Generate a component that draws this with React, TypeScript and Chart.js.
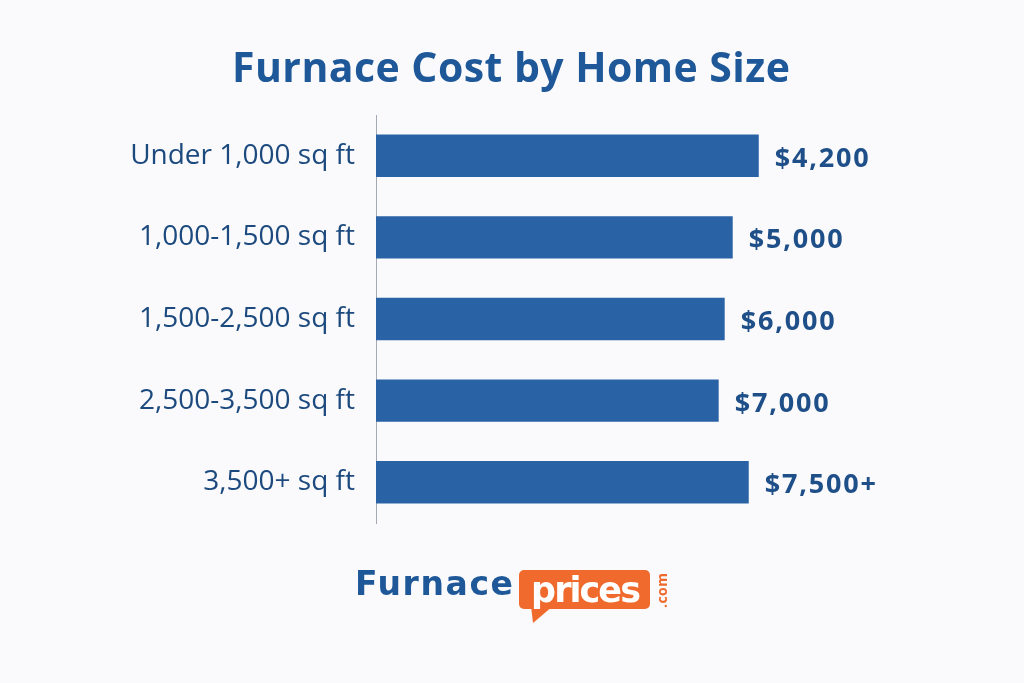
import React, { useEffect, useRef } from "react";
import { Chart, registerables } from "chart.js";

Chart.register(...registerables);

// Categories (home size)
const categories = [
  "Under 1,000 sq ft",
  "1,000-1,500 sq ft",
  "1,500-2,500 sq ft",
  "2,500-3,500 sq ft",
  "3,500+ sq ft",
];
// Bar lengths as drawn in the picture (relative units, 0-100 axis)
const barLengths = [76.4, 71.2, 69.6, 68.4, 74.4];
// Cost labels printed at the end of each bar
const costLabels = ["$4,200", "$5,000", "$6,000", "$7,000", "$7,500+"];

const TITLE = "Furnace Cost by Home Size";
const BG = "#FAFAFC";
const BAR = "#2A62A6";
const NAVY = "#1C4A7E";
const TITLE_COLOR = "#1E5898";
const ORANGE = "#EF6A2C";

function fillFitted(
  ctx: CanvasRenderingContext2D,
  text: string,
  x: number,
  y: number,
  width: number
) {
  (ctx as any).letterSpacing = "0px";
  const w = ctx.measureText(text).width;
  const n = Math.max(1, text.length - 1);
  const ls = (width - w) / n;
  (ctx as any).letterSpacing = ls + "px";
  ctx.fillText(text, x, y);
  (ctx as any).letterSpacing = "0px";
}

const decorPlugin = {
  id: "decor",
  beforeDraw(chart: any) {
    const ctx = chart.ctx as CanvasRenderingContext2D;
    ctx.save();
    ctx.fillStyle = BG;
    ctx.fillRect(0, 0, chart.width, chart.height);
    ctx.restore();
  },
  afterDraw(chart: any) {
    const ctx = chart.ctx as CanvasRenderingContext2D;
    ctx.save();
    // Title
    ctx.fillStyle = TITLE_COLOR;
    ctx.font = "bold 41px 'Open Sans'";
    ctx.textAlign = "left";
    ctx.textBaseline = "alphabetic";
    fillFitted(ctx, TITLE, 232, 82, 558);

    // Logo: "Furnace"
    ctx.fillStyle = TITLE_COLOR;
    ctx.font = "bold 33px 'DejaVu Sans'";
    fillFitted(ctx, "Furnace", 355, 595, 158);

    // Orange speech bubble
    ctx.fillStyle = ORANGE;
    ctx.beginPath();
    (ctx as any).roundRect(519, 570, 131, 39, 5);
    ctx.fill();
    ctx.beginPath();
    ctx.moveTo(531, 606);
    ctx.lineTo(533, 623);
    ctx.lineTo(553, 606);
    ctx.closePath();
    ctx.fill();

    // "prices"
    ctx.fillStyle = "#FFFFFF";
    ctx.font = "bold 35px 'DejaVu Sans'";
    fillFitted(ctx, "prices", 531, 602, 110);

    // ".com" rotated
    ctx.fillStyle = ORANGE;
    ctx.font = "bold 14px 'Open Sans'";
    ctx.translate(667, 608);
    ctx.rotate(-Math.PI / 2);
    fillFitted(ctx, ".com", 0, 0, 35);
    ctx.restore();
  },
};

const valueLabelPlugin = {
  id: "valueLabels",
  afterDatasetsDraw(chart: any) {
    const ctx = chart.ctx as CanvasRenderingContext2D;
    const meta = chart.getDatasetMeta(0);
    ctx.save();
    ctx.fillStyle = "#1F4F88";
    ctx.font = "bold 27px 'Open Sans'";
    ctx.textAlign = "left";
    ctx.textBaseline = "alphabetic";
    (ctx as any).letterSpacing = "1.8px";
    meta.data.forEach((bar: any, i: number) => {
      ctx.fillText(costLabels[i], bar.x + 16, bar.y + 11);
    });
    ctx.restore();
  },
};

export default function App() {
  const ref = useRef<HTMLCanvasElement | null>(null);

  useEffect(() => {
    document.body.style.margin = "0";
    document.body.style.background = BG;
    if (!ref.current) return;
    const chart = new Chart(ref.current, {
      type: "bar",
      data: {
        labels: categories,
        datasets: [
          {
            data: barLengths,
            backgroundColor: BAR,
            borderWidth: 0,
            barPercentage: 0.52,
            categoryPercentage: 1,
          },
        ],
      },
      options: {
        indexAxis: "y",
        responsive: false,
        animation: false,
        layout: { padding: { left: 0, right: 147, top: 115, bottom: 160 } },
        plugins: {
          legend: { display: false },
          tooltip: { enabled: false },
          title: { display: false },
        },
        scales: {
          x: { display: false, min: 0, max: 100 },
          y: {
            afterFit(scale: any) {
              scale.width = 376;
            },
            grid: { display: false, drawTicks: false },
            border: { display: true, color: "#A3AAB3", width: 1 },
            ticks: {
              color: NAVY,
              padding: 21,
              font: { family: "'Open Sans'", size: 28, weight: "500" },
            },
          },
        },
      },
      plugins: [decorPlugin, valueLabelPlugin],
    });
    return () => chart.destroy();
  }, []);

  return (
    <div style={{ position: "fixed", left: 0, top: 0, width: 1024, height: 683, background: BG }}>
      <canvas ref={ref} width={1024} height={683} style={{ display: "block" }} />
    </div>
  );
}
